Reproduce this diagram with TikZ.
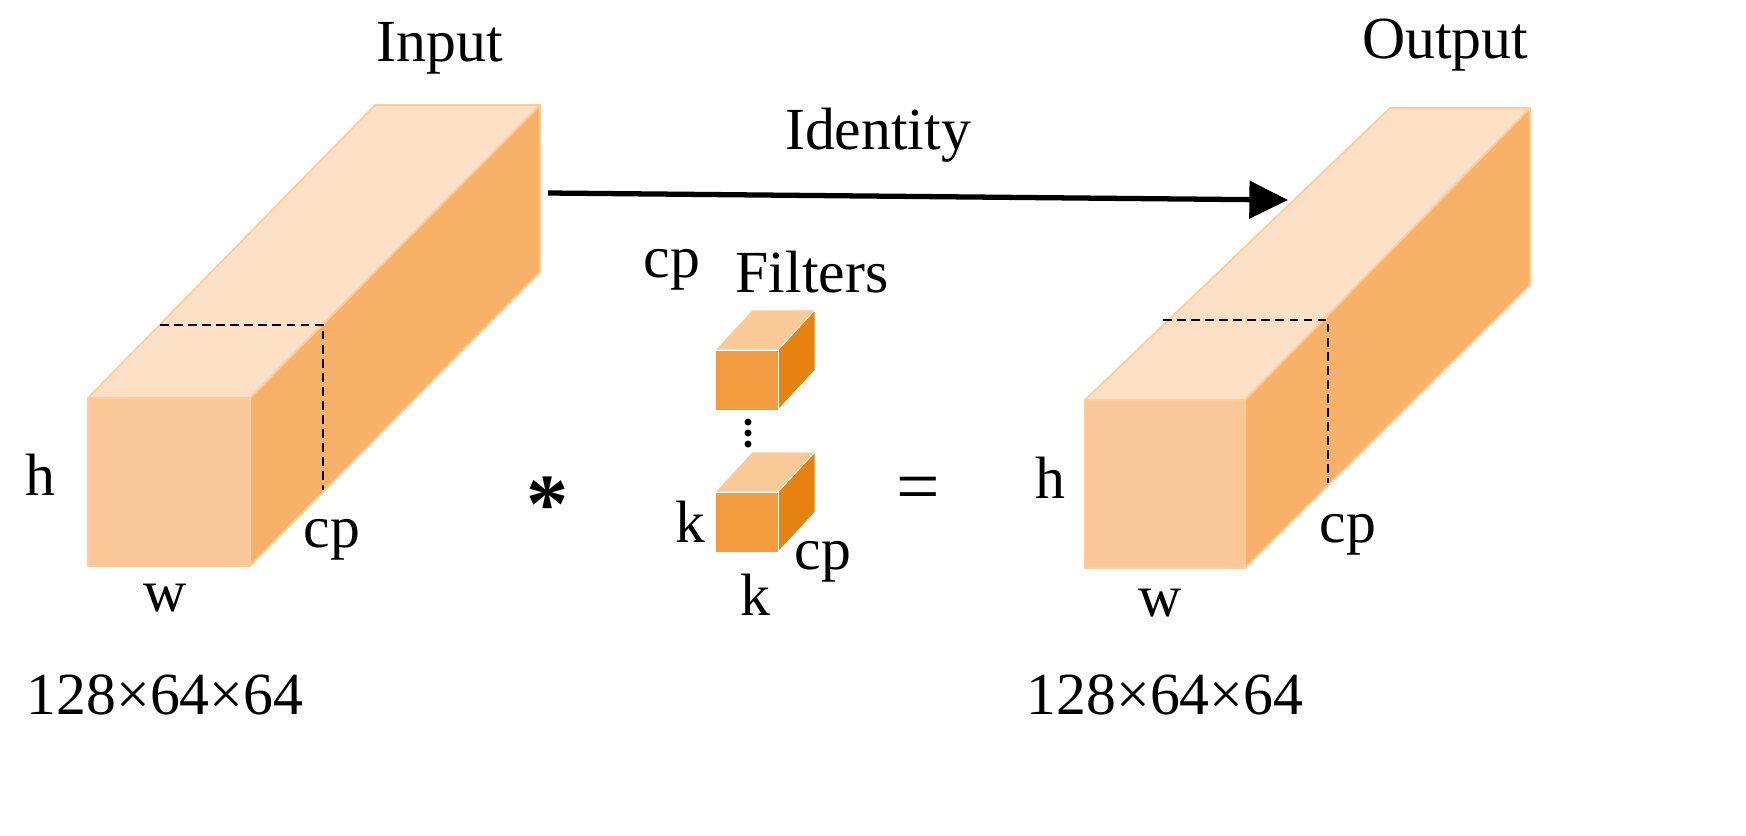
\documentclass[tikz,border=0pt]{standalone}
\usepackage{fontspec}
\setmainfont{Liberation Serif}
\usetikzlibrary{arrows.meta}
\begin{document}
\begin{tikzpicture}[x=0.02cm,y=-0.02cm,
 lbl/.style={font=\fontsize{34}{40}\selectfont,inner sep=0pt},
 edge/.style={draw=orange!40!white,line width=1pt,line join=round},
 dsh/.style={dash pattern=on 5pt off 3pt,line width=1pt}]
\definecolor{tfront}{HTML}{FAC898}\definecolor{ttop}{HTML}{FCE0C6}\definecolor{tright}{HTML}{F8B168}
\definecolor{sfront}{HTML}{F29C3F}\definecolor{stop}{HTML}{F9C998}\definecolor{sright}{HTML}{E58210}
\useasboundingbox (0,0) rectangle (1746,835);
% input box
\fill[ttop,edge] (88,398)--(375,105)--(540,105)--(250,398)--cycle;
\fill[tright,edge] (250,398)--(540,105)--(540,272)--(250,566)--cycle;
\fill[tfront,edge] (88,398) rectangle (250,566);
\draw[dsh] (160,325)--(323,325)--(323,490);
% output box
\fill[ttop,edge] (1085,400)--(1390,108)--(1530,108)--(1245,400)--cycle;
\fill[tright,edge] (1245,400)--(1530,108)--(1530,285)--(1245,568)--cycle;
\fill[tfront,edge] (1085,400) rectangle (1245,568);
\draw[dsh] (1163,320)--(1328,320)--(1328,483);
% filters
\foreach \y in {350,492}{
 \fill[stop,draw=white,thin] (715,\y)--(752,\y-40)--(815,\y-40)--(778,\y)--cycle;
 \fill[sright,draw=white,thin] (778,\y)--(815,\y-40)--(815,\y+20)--(778,\y+60)--cycle;
 \fill[sfront,draw=white,thin] (715,\y) rectangle (778,\y+60);
}
\foreach \y in {422,433,444}\fill (748,\y) circle (3.5);
% arrow
\coordinate (a1) at (548,193); \coordinate (a2) at (1288,200);
\draw[line width=3pt,-{Triangle[length=22pt,width=21pt]}] (a1)--(a2);
% labels
\node[lbl] (in) at (440,48) {Input};
\node[lbl] (out) at (1445,45) {Output};
\node[lbl] (id) at (878,135) {Identity};
\node[lbl] (cpf) at (672,270) {cp};
\node[lbl] (fil) at (812,272) {Filters};
\node[lbl] (h1) at (40,475) {h};
\node[lbl] (cp1) at (332,540) {cp};
\node[lbl] (w1) at (165,598) {w};
\node[lbl] (d1) at (165,695) {128×64×64};
\node[lbl,font=\fontsize{48}{50}\selectfont\bfseries] (st) at (548,505) {*};
\node[lbl,font=\fontsize{44}{50}\selectfont] (eq) at (918,495) {=};
\node[lbl] (k1) at (690,522) {k};
\node[lbl] (k2) at (755,595) {k};
\node[lbl] (cp2) at (823,562) {cp};
\node[lbl] (h2) at (1050,478) {h};
\node[lbl] (cp3) at (1348,535) {cp};
\node[lbl] (w2) at (1160,603) {w};
\node[lbl] (d2) at (1165,695) {128×64×64};
\end{tikzpicture}
\end{document}
